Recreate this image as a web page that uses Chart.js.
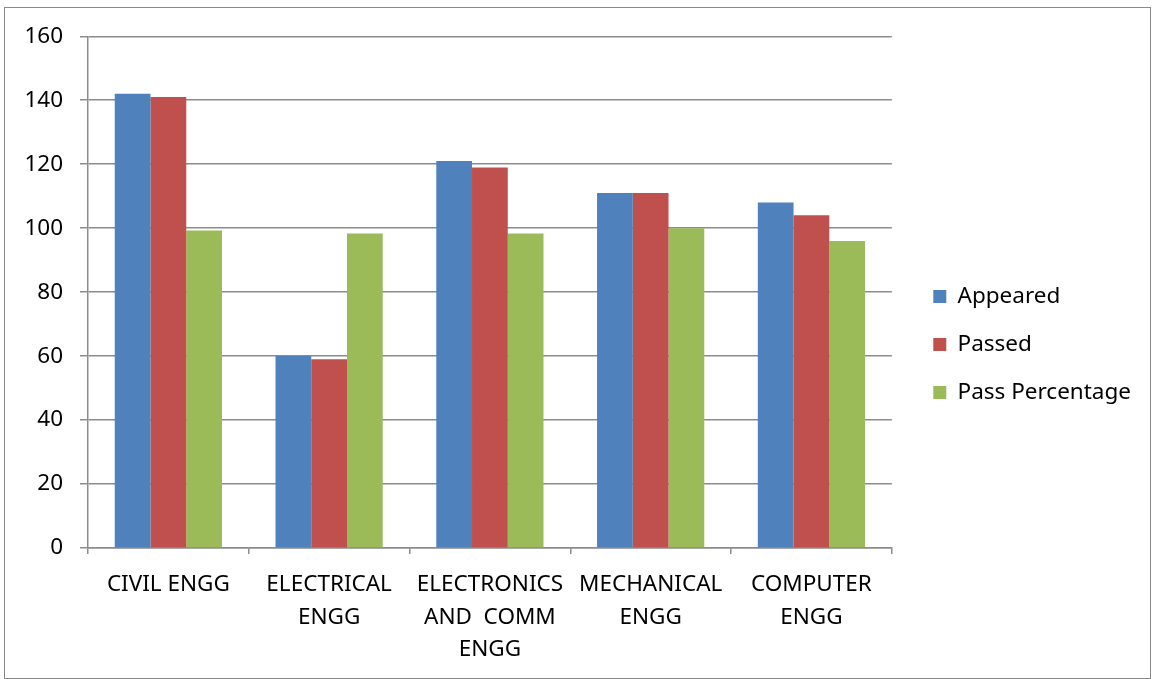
<!DOCTYPE html>
<html>
<head>
<meta charset="utf-8">
<script src="https://cdn.jsdelivr.net/npm/chart.js@4.4.0/dist/chart.umd.min.js"></script>
<style>
    html, body { margin: 0; padding: 0; background: #fff; }
    #frame {
        position: absolute; left: 4px; top: 7px;
        width: 1147px; height: 672px;
        box-sizing: border-box; border: 1px solid #898989;
    }
</style>
</head>
<body>
<div id="frame"><canvas id="resultChart"></canvas></div>
<script>
// Branch-wise results
const categories = [
    ['CIVIL ENGG'],
    ['ELECTRICAL', 'ENGG'],
    ['ELECTRONICS', 'AND  COMM', 'ENGG'],
    ['MECHANICAL', 'ENGG'],
    ['COMPUTER', 'ENGG']
];
const appeared = [142, 60, 121, 111, 108];
const passed = [141, 59, 119, 111, 104];
const passPercentage = [99.3, 98.3, 98.3, 100, 96];

const fontFamily = "'Noto Sans', sans-serif";
const gridColor = '#8c8c8c';

const ctx = document.getElementById('resultChart').getContext('2d');
new Chart(ctx, {
    type: 'bar',
    data: {
        labels: categories,
        datasets: [
            { label: 'Appeared', data: appeared, backgroundColor: '#4F81BD' },
            { label: 'Passed', data: passed, backgroundColor: '#C0504D' },
            { label: 'Pass Percentage', data: passPercentage, backgroundColor: '#9BBB59' }
        ]
    },
    options: {
        responsive: true,
        maintainAspectRatio: false,
        animation: false,
        categoryPercentage: 0.667,
        barPercentage: 1.0,
        layout: { padding: { top: 18, left: 0, right: 9, bottom: 15 } },
        plugins: {
            tooltip: { enabled: false },
            legend: {
                position: 'right',
                maxWidth: 300,
                labels: {
                    boxWidth: 13,
                    boxHeight: 13,
                    padding: 25.5,
                    color: '#000',
                    font: { family: fontFamily, size: 22.5 }
                }
            }
        },
        scales: {
            x: {
                grid: { drawOnChartArea: false, drawTicks: true, tickLength: 6, color: gridColor, lineWidth: 1.5 },
                border: { color: gridColor, width: 1.5 },
                ticks: {
                    color: '#000',
                    padding: 15,
                    maxRotation: 0,
                    autoSkip: false,
                    font: { family: fontFamily, size: 22.5, lineHeight: 1.43 }
                },
                afterFit: scale => { scale.height = 115; }
            },
            y: {
                min: 0,
                max: 160,
                grid: { color: gridColor, lineWidth: 1.5, tickLength: 8 },
                border: { color: gridColor, width: 1.5 },
                ticks: {
                    stepSize: 20,
                    color: '#000',
                    padding: 17,
                    font: { family: fontFamily, size: 22.5, lineHeight: 1 }
                },
                afterFit: scale => { scale.width = 83; }
            },
            // empty spacers: above the plot, and between plot and legend
            topGap: {
                type: 'linear',
                position: 'top',
                grid: { display: false },
                border: { display: false },
                ticks: { display: false },
                afterFit: scale => { scale.height = 6; }
            },
            gap: {
                type: 'linear',
                position: 'right',
                grid: { display: false },
                border: { display: false },
                ticks: { display: false },
                afterFit: scale => { scale.width = 16; }
            }
        }
    }
});
</script>
</body>
</html>
